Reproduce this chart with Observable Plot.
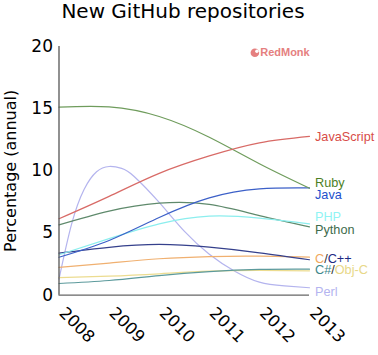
<!DOCTYPE html>
<html>
<head>
<meta charset="utf-8">
<script src="https://cdn.jsdelivr.net/npm/d3@7"></script>
<script src="https://cdn.jsdelivr.net/npm/@observablehq/plot@0.6"></script>
<style>
html,body{margin:0;padding:0;background:#fff;}
#title{height:32px;width:366px;text-align:center;font:20px/22px "DejaVu Sans",sans-serif;color:#000;white-space:nowrap;}
svg{display:block;}
</style>
</head>
<body>
<div id="title">New GitHub repositories</div>
<div id="chart"></div>
<script>
const years = [2008, 2009, 2010, 2011, 2012, 2013];
const javascript = [6.15, 7.95, 9.8, 11.2, 12.25, 12.77];
const ruby = [15.12, 15.14, 14.37, 12.7, 10.57, 8.6];
const java = [3.05, 4.4, 6.25, 7.83, 8.55, 8.63];
const php = [3.25, 4.55, 5.74, 6.36, 6.2, 5.74];
const python = [5.65, 6.76, 7.4, 7.3, 6.4, 5.5];
const cpp = [3.38, 3.85, 4.08, 3.86, 3.41, 2.85];
const c = [2.23, 2.58, 2.93, 3.11, 3.14, 3.06];
const objc = [1.42, 1.53, 1.72, 1.93, 1.99, 1.96];
const csharp = [0.94, 1.18, 1.58, 1.9, 2.07, 2.09];
const perlYears = [2008, 2008.25, 2008.5, 2008.75, 2009, 2009.25, 2009.5, 2010, 2010.5, 2011, 2011.5, 2012, 2012.5, 2013];
const perl = [1.3, 5.7, 8.5, 9.93, 10.35, 10.2, 9.55, 7.46, 5.15, 3.3, 1.95, 1.05, 0.75, 0.6];

const series = [
  {name: "Perl", xs: perlYears, ys: perl, color: "#b4b4ee"},
  {name: "Obj-C", xs: years, ys: objc, color: "#ecdc90"},
  {name: "C#", xs: years, ys: csharp, color: "#5c9a9c"},
  {name: "C", xs: years, ys: c, color: "#f0b070"},
  {name: "C++", xs: years, ys: cpp, color: "#35408c"},
  {name: "Python", xs: years, ys: python, color: "#5f8a6c"},
  {name: "PHP", xs: years, ys: php, color: "#8ceeee"},
  {name: "Java", xs: years, ys: java, color: "#3c60c8"},
  {name: "Ruby", xs: years, ys: ruby, color: "#6f9c5c"},
  {name: "JavaScript", xs: years, ys: javascript, color: "#d86a66"}
];
const rows = series.flatMap(s => s.xs.map((x, i) => ({name: s.name, x, y: s.ys[i], color: s.color})));

const labelNames = ["JavaScript", "Ruby", "Java", "PHP", "Python", "C/C++", "C#/Obj-C", "Perl"];
const labelY = [12.75, 9.05, 8.1, 6.28, 5.25, 2.95, 2.03, 0.28];
const labelParts = [
  [["JavaScript", "#d84c48"]],
  [["Ruby", "#4c7f24"]],
  [["Java", "#2350cc"]],
  [["PHP", "#90f4f4"]],
  [["Python", "#3e6c4c"]],
  [["C", "#f0a860"], ["/", "#333"], ["C++", "#1c2a84"]],
  [["C#", "#40888c"], ["/", "#333"], ["Obj-C", "#e8d888"]],
  [["Perl", "#b4b4f0"]]
];
const labels = labelNames.map((name, i) => ({name, y: labelY[i], parts: labelParts[i]}));

const colored = (index, scales, values, dims, ctx, next) => {
  const g = next(index, scales, values, dims, ctx);
  g.querySelectorAll("text").forEach((t, k) => {
    const parts = labels[index[k]].parts;
    t.textContent = "";
    for (const [txt, col] of parts) {
      const ts = document.createElementNS("http://www.w3.org/2000/svg", "tspan");
      ts.textContent = txt;
      ts.setAttribute("fill", col);
      t.appendChild(ts);
    }
  });
  return g;
};

const chart = Plot.plot({
  width: 378,
  height: 323,
  marginTop: 14,
  marginBottom: 60.3,
  marginLeft: 58.5,
  marginRight: 69,
  style: {background: "#fff", overflow: "visible"},
  x: {domain: [2008, 2013], axis: null},
  y: {domain: [0, 20], axis: null},
  marks: [
    Plot.line(rows, {x: "x", y: "y", z: "name", stroke: "color", strokeWidth: 1.2, curve: "natural"}),
    Plot.ruleX([2008], {stroke: "#555", strokeWidth: 1.3}),
    Plot.ruleY([0], {stroke: "#666", strokeWidth: 1.3}),
    Plot.axisY({
      ticks: [0, 5, 10, 15, 20],
      tickSize: 0,
      tickPadding: 6,
      fontSize: 17,
      fontFamily: "DejaVu Sans",
      label: null,
      fill: "#000"
    }),
    Plot.text(["Percentage (annual)"], {
      text: d => d,
      frameAnchor: "left",
      textAnchor: "middle",
      dx: -48,
      rotate: -90,
      fontSize: 16,
      fontFamily: "DejaVu Sans",
      fill: "#000"
    }),
    Plot.text(years, {
      x: d => d,
      y: () => 0,
      text: d => String(d),
      rotate: 45,
      textAnchor: "start",
      lineAnchor: "middle",
      dx: 3,
      dy: 15,
      fontSize: 16.5,
      fontFamily: "DejaVu Sans",
      fill: "#000"
    }),
    Plot.text(labels, {
      x: () => 2013,
      y: "y",
      text: "name",
      textAnchor: "start",
      lineAnchor: "middle",
      dx: 5.5,
      fontSize: 12.7,
      fontFamily: "Liberation Sans",
      render: colored
    }),
    Plot.dot([{x: 2011.91, y: 19.5}], {x: "x", y: "y", r: 4.3, fill: "#e58080"}),
    Plot.dot([{x: 2011.95, y: 19.62}], {x: "x", y: "y", r: 1.7, fill: "#fff"}),
    Plot.text(["RedMonk"], {
      x: () => 2012.51,
      y: () => 19.5,
      text: d => d,
      fontSize: 11,
      fontWeight: "bold",
      fontFamily: "Liberation Sans",
      fill: "#e58080"
    })
  ]
});
document.getElementById("chart").appendChild(chart);
</script>
</body>
</html>
